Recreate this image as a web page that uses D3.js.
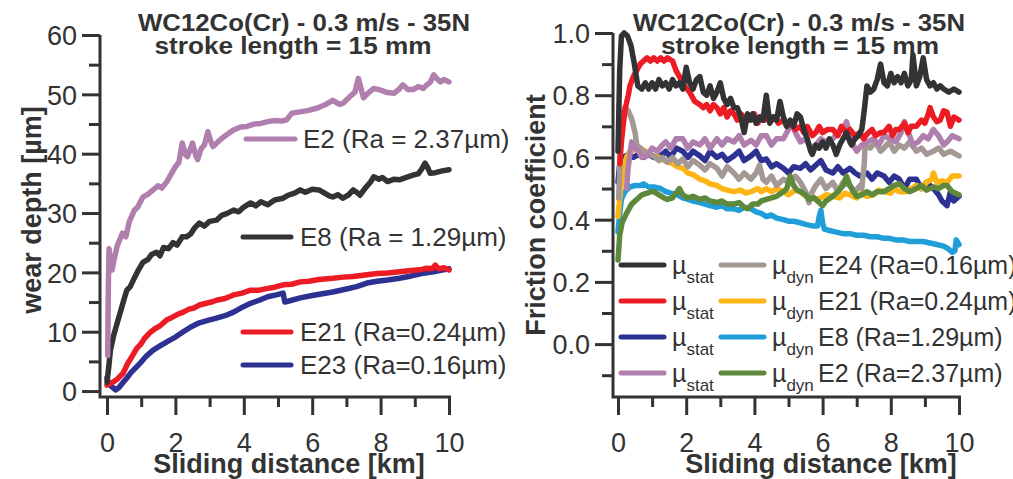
<!DOCTYPE html>
<html>
<head>
<meta charset="utf-8">
<script src="https://cdn.jsdelivr.net/npm/d3@7"></script>
<style>
  body { margin: 0; background: #fff; }
  svg { display: block; }
  text { font-family: "Liberation Sans", Arial, Helvetica, sans-serif; fill: #333; }
</style>
</head>
<body>
<svg id="chart" width="1013" height="479"></svg>
<script>
const TITLE_1 = "WC12Co(Cr) - 0.3 m/s - 35N",
      TITLE_2 = "stroke length = 15 mm",
      X_LABEL = "Sliding distance [km]";

// --- left panel: wear depth [µm] vs sliding distance [km]
const wearE2 = [[0.02,6],[0.04,18],[0.06,24],[0.1,22],[0.15,20.4],[0.2,22],[0.3,24.5],[0.45,26.6],[0.55,26],[0.65,28.5],[0.8,30.5],[0.9,31],[1.05,32.7],[1.2,33.2],[1.35,33.9],[1.5,34.6],[1.6,34.2],[1.75,35.3],[1.9,36.8],[2.0,37.8],[2.1,38.5],[2.2,41.8],[2.3,39.8],[2.35,39.5],[2.45,41.0],[2.5,41.8],[2.6,39.6],[2.65,39],[2.75,40.8],[2.85,41.5],[2.95,43.7],[3.05,41.8],[3.1,41.2],[3.3,42.3],[3.5,43.2],[3.7,44],[3.9,44.5],[4.1,44.6],[4.3,45],[4.5,45.1],[4.7,45.4],[4.9,45.6],[5.1,45.5],[5.25,45.7],[5.4,46.8],[5.6,47],[5.9,47.3],[6.15,47.7],[6.4,48.3],[6.6,49],[6.8,48.3],[6.9,48.5],[7.1,49.6],[7.25,50.4],[7.35,52.7],[7.45,50.5],[7.5,49.4],[7.65,50.3],[7.8,51],[8.0,50.7],[8.2,50.3],[8.4,50.2],[8.55,50.9],[8.65,51.6],[8.8,50.8],[8.95,50.8],[9.1,51.3],[9.25,51.0],[9.35,51.6],[9.45,52.0],[9.55,53.3],[9.65,52.6],[9.75,52.1],[9.85,52.5],[10,52.1]];
const wearE8 = [[0.0,1.5],[0.05,4],[0.1,6.9],[0.2,9.5],[0.3,11.5],[0.4,13.5],[0.5,15.5],[0.58,17],[0.68,17.6],[0.77,18.7],[0.9,20.2],[1.05,21.7],[1.2,22.2],[1.3,23],[1.45,23.4],[1.55,22.8],[1.65,24.2],[1.8,24.0],[1.93,25],[2.05,24.6],[2.2,26.0],[2.33,26],[2.45,26.5],[2.55,27.4],[2.7,28.3],[2.85,27.8],[3.0,28.6],[3.2,28.8],[3.35,29.6],[3.5,29.9],[3.7,30.5],[3.85,30.2],[4.0,31.0],[4.2,31.7],[4.35,31.2],[4.5,31.9],[4.7,31.4],[4.9,32.2],[5.15,32.5],[5.3,33.0],[5.5,33.4],[5.65,33.9],[5.8,33.5],[6.0,34.0],[6.2,33.9],[6.35,33.4],[6.5,32.9],[6.6,32.7],[6.75,33.1],[6.9,32.5],[7.05,33.0],[7.2,33.9],[7.3,33.5],[7.4,33],[7.55,34.2],[7.7,35.2],[7.8,36.1],[7.95,35.7],[8.05,36.0],[8.2,35.3],[8.4,35.7],[8.55,35.6],[8.75,36.0],[8.95,36.4],[9.1,36.6],[9.2,37.4],[9.3,38.4],[9.38,37.6],[9.45,36.7],[9.6,36.8],[9.8,37.1],[10,37.3]];
const wearE21 = [[0.0,1.0],[0.1,1.3],[0.2,1.6],[0.3,2.0],[0.47,3],[0.6,4.6],[0.75,6.0],[0.87,7.2],[1.0,8.0],[1.1,8.9],[1.25,9.8],[1.4,10.5],[1.55,11.0],[1.75,12],[1.9,12.4],[2.05,12.9],[2.23,13.3],[2.4,13.8],[2.55,14.0],[2.7,14.5],[2.9,14.8],[3.05,15.0],[3.2,15.3],[3.45,15.6],[3.7,16.2],[3.95,16.5],[4.2,17],[4.45,17.0],[4.7,17.3],[4.9,17.5],[5.15,17.9],[5.4,18.0],[5.65,18.4],[5.9,18.5],[6.2,18.8],[6.6,19],[6.9,19.2],[7.2,19.3],[7.6,19.6],[7.9,19.8],[8.2,19.9],[8.55,20.1],[8.9,20.3],[9.2,20.5],[9.35,20.7],[9.5,20.6],[9.6,21.2],[9.7,20.6],[9.85,20.8],[10,20.4]];
const wearE23 = [[0.0,2.2],[0.05,1.2],[0.15,0.7],[0.25,0.2],[0.35,0.6],[0.45,1.3],[0.58,2.2],[0.7,3.1],[0.85,4.0],[0.97,4.7],[1.15,5.9],[1.35,6.9],[1.55,7.6],[1.75,8.3],[2.0,9.1],[2.23,10],[2.45,10.8],[2.7,11.5],[2.95,11.9],[3.2,12.3],[3.45,12.7],[3.7,13.3],[3.95,14.1],[4.2,14.8],[4.45,15.3],[4.7,15.9],[4.95,16.2],[5.15,16.5],[5.2,15.0],[5.4,15.3],[5.65,15.7],[6.0,16.1],[6.3,16.4],[6.6,16.7],[7.0,17.2],[7.3,17.6],[7.6,18.2],[7.9,18.5],[8.2,18.7],[8.55,19],[8.9,19.4],[9.2,19.8],[9.55,20.1],[9.8,20.4],[10,20.6]];

// --- right panel: friction coefficient vs sliding distance [km]
const muStatE24 = [[0.0,0.62],[0.05,0.88],[0.1,0.99],[0.18,1.0],[0.28,0.99],[0.38,0.96],[0.48,0.9],[0.58,0.83],[0.7,0.82],[0.8,0.84],[0.9,0.82],[1.0,0.84],[1.1,0.82],[1.2,0.85],[1.3,0.83],[1.4,0.84],[1.5,0.82],[1.6,0.85],[1.7,0.83],[1.8,0.84],[1.9,0.82],[2.0,0.89],[2.1,0.84],[2.2,0.82],[2.3,0.85],[2.4,0.86],[2.5,0.81],[2.6,0.80],[2.7,0.83],[2.8,0.79],[2.9,0.81],[3.0,0.84],[3.1,0.79],[3.2,0.77],[3.3,0.79],[3.4,0.76],[3.5,0.76],[3.6,0.73],[3.7,0.68],[3.8,0.74],[3.9,0.72],[3.95,0.74],[4.05,0.71],[4.15,0.73],[4.25,0.72],[4.35,0.80],[4.45,0.71],[4.55,0.73],[4.65,0.72],[4.75,0.78],[4.85,0.73],[4.95,0.70],[5.05,0.72],[5.15,0.70],[5.25,0.74],[5.35,0.73],[5.45,0.69],[5.55,0.66],[5.65,0.62],[5.7,0.61],[5.8,0.64],[5.9,0.63],[6.0,0.65],[6.1,0.63],[6.2,0.66],[6.3,0.64],[6.4,0.61],[6.5,0.64],[6.6,0.66],[6.7,0.68],[6.8,0.65],[6.85,0.64],[6.95,0.66],[7.05,0.67],[7.15,0.69],[7.22,0.75],[7.3,0.83],[7.4,0.81],[7.5,0.82],[7.6,0.85],[7.7,0.90],[7.8,0.84],[7.9,0.83],[8.0,0.87],[8.1,0.84],[8.2,0.86],[8.3,0.84],[8.4,0.87],[8.5,0.83],[8.6,0.85],[8.65,0.93],[8.75,0.83],[8.85,0.86],[8.95,0.92],[9.05,0.85],[9.15,0.83],[9.25,0.84],[9.35,0.82],[9.45,0.83],[9.55,0.82],[9.7,0.81],[9.85,0.82],[10,0.81]];
const muStatE21 = [[0.05,0.58],[0.1,0.65],[0.2,0.75],[0.3,0.8],[0.35,0.83],[0.45,0.86],[0.55,0.88],[0.65,0.9],[0.75,0.91],[0.85,0.92],[0.95,0.91],[1.05,0.92],[1.15,0.91],[1.25,0.92],[1.35,0.91],[1.45,0.92],[1.6,0.91],[1.7,0.88],[1.85,0.85],[1.95,0.83],[2.1,0.81],[2.25,0.78],[2.4,0.77],[2.5,0.76],[2.6,0.77],[2.7,0.75],[2.8,0.77],[2.9,0.76],[3.0,0.74],[3.1,0.76],[3.2,0.73],[3.3,0.75],[3.4,0.74],[3.5,0.72],[3.6,0.74],[3.7,0.73],[3.8,0.72],[3.9,0.725],[4.0,0.74],[4.1,0.71],[4.2,0.73],[4.3,0.72],[4.4,0.74],[4.5,0.72],[4.6,0.73],[4.7,0.71],[4.85,0.72],[4.95,0.70],[5.05,0.71],[5.2,0.69],[5.35,0.70],[5.45,0.68],[5.55,0.70],[5.7,0.67],[5.8,0.68],[5.9,0.70],[6.0,0.68],[6.15,0.69],[6.3,0.69],[6.45,0.67],[6.55,0.70],[6.7,0.68],[6.8,0.69],[6.95,0.67],[7.1,0.68],[7.2,0.66],[7.3,0.675],[7.45,0.69],[7.55,0.67],[7.7,0.68],[7.8,0.68],[7.95,0.70],[8.05,0.67],[8.15,0.69],[8.25,0.69],[8.4,0.71],[8.5,0.68],[8.6,0.70],[8.75,0.70],[8.9,0.72],[9.0,0.71],[9.1,0.74],[9.15,0.76],[9.25,0.73],[9.35,0.715],[9.45,0.72],[9.55,0.75],[9.65,0.745],[9.75,0.70],[9.85,0.73],[10,0.72]];
const muStatE8 = [[0.0,0.52],[0.05,0.58],[0.15,0.6],[0.3,0.61],[0.45,0.6],[0.6,0.61],[0.75,0.6],[0.9,0.61],[1.05,0.6],[1.25,0.605],[1.4,0.62],[1.55,0.6],[1.7,0.63],[1.9,0.62],[2.05,0.6],[2.2,0.62],[2.4,0.605],[2.55,0.59],[2.7,0.62],[2.9,0.60],[3.05,0.61],[3.2,0.59],[3.4,0.605],[3.55,0.62],[3.7,0.59],[3.9,0.605],[4.05,0.62],[4.2,0.59],[4.35,0.595],[4.5,0.57],[4.65,0.58],[4.85,0.565],[5.0,0.55],[5.15,0.57],[5.35,0.565],[5.5,0.58],[5.65,0.56],[5.8,0.575],[5.95,0.59],[6.1,0.56],[6.3,0.55],[6.45,0.57],[6.6,0.55],[6.8,0.565],[6.95,0.55],[7.1,0.54],[7.3,0.55],[7.45,0.53],[7.6,0.55],[7.8,0.54],[7.95,0.52],[8.1,0.54],[8.25,0.53],[8.4,0.50],[8.55,0.53],[8.75,0.53],[8.9,0.50],[9.05,0.52],[9.25,0.50],[9.4,0.48],[9.5,0.46],[9.65,0.445],[9.75,0.49],[9.85,0.46],[10,0.475]];
const muStatE2 = [[0.25,0.5],[0.3,0.57],[0.4,0.65],[0.5,0.63],[0.6,0.62],[0.7,0.6],[0.85,0.605],[1.0,0.63],[1.15,0.62],[1.3,0.64],[1.4,0.65],[1.55,0.63],[1.7,0.66],[1.9,0.66],[2.05,0.63],[2.2,0.65],[2.4,0.64],[2.55,0.66],[2.7,0.63],[2.9,0.66],[3.05,0.64],[3.2,0.66],[3.4,0.65],[3.55,0.67],[3.7,0.64],[3.9,0.655],[4.05,0.64],[4.2,0.67],[4.35,0.67],[4.5,0.64],[4.65,0.66],[4.85,0.66],[5.0,0.69],[5.1,0.715],[5.2,0.68],[5.35,0.65],[5.5,0.66],[5.65,0.63],[5.8,0.64],[5.95,0.66],[6.1,0.65],[6.3,0.66],[6.45,0.68],[6.6,0.69],[6.7,0.715],[6.8,0.68],[6.9,0.64],[7.0,0.62],[7.15,0.64],[7.3,0.65],[7.5,0.66],[7.65,0.64],[7.8,0.67],[8.0,0.66],[8.15,0.65],[8.3,0.68],[8.4,0.715],[8.55,0.67],[8.65,0.64],[8.8,0.65],[8.95,0.67],[9.1,0.66],[9.25,0.69],[9.4,0.67],[9.55,0.64],[9.65,0.65],[9.8,0.67],[10,0.66]];
const muDynE24 = [[0.02,0.47],[0.08,0.65],[0.14,0.74],[0.2,0.76],[0.3,0.75],[0.4,0.725],[0.5,0.68],[0.55,0.64],[0.65,0.63],[0.75,0.62],[0.9,0.61],[1.05,0.605],[1.2,0.59],[1.3,0.6],[1.45,0.585],[1.6,0.6],[1.75,0.58],[1.9,0.595],[2.05,0.57],[2.2,0.59],[2.4,0.575],[2.55,0.56],[2.7,0.58],[2.9,0.565],[3.05,0.54],[3.2,0.57],[3.4,0.55],[3.55,0.53],[3.7,0.55],[3.9,0.53],[4.05,0.55],[4.15,0.575],[4.25,0.53],[4.35,0.52],[4.5,0.54],[4.65,0.51],[4.85,0.53],[5.0,0.52],[5.2,0.54],[5.35,0.52],[5.5,0.49],[5.6,0.455],[5.7,0.49],[5.8,0.51],[5.95,0.53],[6.1,0.50],[6.3,0.52],[6.45,0.49],[6.6,0.52],[6.8,0.51],[6.95,0.49],[7.1,0.51],[7.15,0.50],[7.22,0.58],[7.25,0.64],[7.4,0.63],[7.55,0.65],[7.7,0.62],[7.8,0.63],[7.95,0.65],[8.1,0.62],[8.25,0.64],[8.4,0.63],[8.55,0.65],[8.75,0.62],[8.9,0.63],[9.05,0.61],[9.25,0.62],[9.4,0.63],[9.55,0.61],[9.75,0.62],[10,0.605]];
const muDynE21 = [[0.0,0.41],[0.08,0.5],[0.15,0.56],[0.25,0.6],[0.35,0.62],[0.5,0.625],[0.65,0.63],[0.8,0.62],[0.95,0.61],[1.05,0.605],[1.2,0.6],[1.35,0.59],[1.45,0.585],[1.6,0.58],[1.75,0.57],[1.9,0.565],[2.05,0.55],[2.2,0.545],[2.4,0.53],[2.55,0.525],[2.7,0.515],[2.9,0.51],[3.05,0.50],[3.2,0.495],[3.4,0.49],[3.6,0.495],[3.75,0.485],[3.9,0.49],[4.1,0.50],[4.2,0.49],[4.35,0.50],[4.5,0.49],[4.65,0.50],[4.85,0.49],[5.0,0.48],[5.2,0.495],[5.35,0.49],[5.5,0.475],[5.65,0.48],[5.8,0.465],[5.95,0.47],[6.1,0.48],[6.3,0.475],[6.5,0.47],[6.65,0.485],[6.8,0.48],[7.0,0.47],[7.15,0.485],[7.3,0.475],[7.5,0.48],[7.65,0.495],[7.8,0.49],[8.0,0.485],[8.1,0.5],[8.25,0.49],[8.45,0.49],[8.6,0.50],[8.75,0.51],[8.9,0.50],[9.05,0.52],[9.2,0.53],[9.25,0.55],[9.35,0.52],[9.5,0.525],[9.65,0.52],[9.8,0.54],[10,0.54]];
const muDynE8 = [[0.0,0.36],[0.05,0.42],[0.1,0.465],[0.2,0.49],[0.35,0.505],[0.5,0.51],[0.65,0.51],[0.75,0.515],[0.9,0.505],[1.05,0.505],[1.25,0.50],[1.4,0.49],[1.55,0.485],[1.75,0.48],[1.9,0.47],[2.05,0.465],[2.2,0.46],[2.4,0.455],[2.55,0.45],[2.7,0.445],[2.9,0.44],[3.05,0.445],[3.2,0.435],[3.4,0.435],[3.55,0.43],[3.7,0.44],[3.9,0.435],[4.05,0.425],[4.2,0.42],[4.35,0.41],[4.5,0.415],[4.65,0.405],[4.85,0.40],[5.0,0.395],[5.15,0.395],[5.35,0.39],[5.5,0.385],[5.7,0.38],[5.85,0.38],[5.9,0.41],[5.95,0.43],[6.0,0.39],[6.05,0.37],[6.2,0.365],[6.4,0.36],[6.6,0.355],[6.8,0.355],[7.0,0.35],[7.2,0.35],[7.4,0.345],[7.6,0.345],[7.8,0.34],[7.95,0.34],[8.15,0.335],[8.35,0.335],[8.55,0.33],[8.75,0.33],[8.95,0.33],[9.15,0.325],[9.35,0.32],[9.55,0.315],[9.7,0.305],[9.8,0.295],[9.88,0.30],[9.92,0.335],[10,0.32]];
const muDynE2 = [[0.0,0.27],[0.05,0.35],[0.12,0.39],[0.25,0.42],[0.4,0.45],[0.55,0.465],[0.7,0.48],[0.85,0.485],[0.95,0.49],[1.05,0.49],[1.2,0.48],[1.35,0.47],[1.45,0.465],[1.6,0.47],[1.7,0.485],[1.8,0.50],[1.9,0.48],[2.05,0.47],[2.2,0.475],[2.4,0.465],[2.55,0.47],[2.7,0.46],[2.9,0.455],[3.05,0.46],[3.2,0.45],[3.4,0.45],[3.55,0.455],[3.7,0.44],[3.8,0.435],[3.95,0.45],[4.1,0.45],[4.2,0.46],[4.35,0.465],[4.5,0.47],[4.65,0.475],[4.85,0.49],[4.95,0.5],[5.05,0.54],[5.15,0.51],[5.25,0.495],[5.35,0.49],[5.5,0.48],[5.6,0.465],[5.75,0.47],[5.9,0.455],[6.0,0.445],[6.1,0.46],[6.3,0.475],[6.45,0.49],[6.6,0.51],[6.7,0.54],[6.8,0.51],[6.9,0.49],[7.0,0.475],[7.15,0.48],[7.3,0.49],[7.45,0.48],[7.6,0.49],[7.8,0.49],[7.95,0.50],[8.1,0.51],[8.25,0.515],[8.4,0.50],[8.55,0.49],[8.75,0.50],[8.9,0.51],[9.05,0.495],[9.25,0.505],[9.4,0.50],[9.55,0.51],[9.65,0.51],[9.8,0.49],[10,0.48]];

const wearLabels = ["E2 (Ra = 2.37µm)", "E8 (Ra = 1.29µm)", "E21 (Ra=0.24µm)", "E23 (Ra=0.16µm)"];
const frictionLabels = ["E24 (Ra=0.16µm)", "E21 (Ra=0.24µm)", "E8 (Ra=1.29µm)", "E2 (Ra=2.37µm)"];
const xTicksMajor = [0, 2, 4, 6, 8, 10],
      xTicksMinor = [1, 3, 5, 7, 9];

const C = {
  black: "#333336", red: "#ed1c24", navy: "#2c3192", lilac: "#b17fad",
  taupe: "#a39893", orange: "#fdb515", blue: "#1f9ed9", green: "#5e893b"
};
const AXIS = "#333", FONT_TICK = 27, FONT_LEG = 26, LINE_W = 5.5;

const svg = d3.select("#chart");
svg.append("rect").attr("width", 1013).attr("height", 479).attr("fill", "#fff");

function panel(opt) {
  let g = svg.append("g");
  let x = d3.scaleLinear().domain([0, 10]).range(opt.xRange),
      y = d3.scaleLinear().domain(opt.yDomain).range([397, opt.top]);

  let line = d3.line().x(d => x(d[0])).y(d => y(d[1]));

  // data lines
  opt.series.forEach(s => {
    g.append("path")
      .datum(s.data)
      .attr("d", line)
      .attr("fill", "none")
      .attr("stroke", s.color)
      .attr("stroke-width", LINE_W)
      .attr("stroke-linejoin", "round")
      .attr("stroke-linecap", "round");
  });

  // frame (left + bottom)
  g.append("path")
    .attr("d", "M" + opt.x0 + "," + opt.top + "V397H" + (opt.xRange[1] + 2))
    .attr("fill", "none").attr("stroke", AXIS).attr("stroke-width", 3);

  // y axis ticks
  let yMajor = g.append("g").attr("transform", "translate(" + opt.x0 + ",0)")
    .call(d3.axisLeft(y).tickValues(opt.yMajor).tickSize(18).tickPadding(5).tickFormat(opt.yFormat));
  let yMinor = g.append("g").attr("transform", "translate(" + opt.x0 + ",0)")
    .call(d3.axisLeft(y).tickValues(opt.yMinor).tickSize(11).tickFormat(""));

  let xMajor = g.append("g").attr("transform", "translate(0,398)")
    .call(d3.axisBottom(x).tickValues(xTicksMajor).tickSize(17).tickFormat(d3.format("d")));
  let xMinor = g.append("g").attr("transform", "translate(0,398)")
    .call(d3.axisBottom(x).tickValues(xTicksMinor).tickSize(9).tickFormat(""));

  [yMajor, yMinor, xMajor, xMinor].forEach(a => {
    a.select(".domain").remove();
    a.selectAll(".tick line").attr("stroke", AXIS).attr("stroke-width", 3);
    a.selectAll(".tick text")
      .attr("font-family", null)
      .style("font-size", FONT_TICK + "px")
      .attr("fill", "#333");
  });
  xMajor.selectAll(".tick text").attr("y", 54).attr("dy", 0);
  yMajor.selectAll(".tick text").attr("dy", "0.36em");

  // titles
  g.append("text")
    .attr("x", opt.t1[0]).attr("y", 31)
    .attr("text-anchor", "middle")
    .attr("textLength", opt.t1[1]).attr("lengthAdjust", "spacingAndGlyphs")
    .style("font-size", "23px").style("font-weight", "bold")
    .text(TITLE_1);
  g.append("text")
    .attr("x", opt.t2[0]).attr("y", 54)
    .attr("text-anchor", "middle")
    .attr("textLength", opt.t2[1]).attr("lengthAdjust", "spacingAndGlyphs")
    .style("font-size", "23px").style("font-weight", "bold")
    .text(TITLE_2);

  // axis labels
  g.append("text")
    .attr("x", opt.xLabelX).attr("y", 473)
    .attr("text-anchor", "middle")
    .style("font-size", "27px").style("font-weight", "bold")
    .text(X_LABEL);
  g.append("text")
    .attr("transform", "translate(" + opt.yLabel[0] + "," + opt.yLabel[1] + ") rotate(-90)")
    .attr("text-anchor", "middle")
    .style("font-size", "27px").style("font-weight", "bold")
    .text(opt.yLabel[2]);

  return g;
}

// left panel
let left = panel({
  xRange: [107, 449], x0: 100, top: 35, yDomain: [-1, 60],
  yMajor: d3.range(0, 61, 10), yMinor: d3.range(5, 60, 10), yFormat: d3.format("d"),
  series: [
    {data: wearE23, color: C.navy},
    {data: wearE21, color: C.red},
    {data: wearE8, color: C.black},
    {data: wearE2, color: C.lilac}
  ],
  t1: [304, 332], t2: [293, 277], xLabelX: 289, yLabel: [41, 210, "wear depth [µm]"]
});

const wearLegend = [
  {label: wearLabels[0], color: C.lilac, y: 139, x1: 246, x2: 295, tx: 303},
  {label: wearLabels[1], color: C.black, y: 237, x1: 243, x2: 291, tx: 300},
  {label: wearLabels[2], color: C.red, y: 332, x1: 243, x2: 291, tx: 300},
  {label: wearLabels[3], color: C.navy, y: 365, x1: 243, x2: 291, tx: 300}
];
wearLegend.forEach(d => {
  left.append("line")
    .attr("x1", d.x1).attr("x2", d.x2).attr("y1", d.y).attr("y2", d.y)
    .attr("stroke", d.color).attr("stroke-width", 5).attr("stroke-linecap", "round");
  left.append("text")
    .attr("x", d.tx).attr("y", d.y).attr("dy", "0.36em")
    .style("font-size", FONT_LEG + "px")
    .text(d.label);
});

// right panel
let right = panel({
  xRange: [618, 959], x0: 613, top: 33, yDomain: [-0.17, 1.0],
  yMajor: [0, 0.2, 0.4, 0.6, 0.8, 1.0], yMinor: [-0.1, 0.1, 0.3, 0.5, 0.7, 0.9], yFormat: d3.format(".1f"),
  series: [
    {data: muStatE8, color: C.navy},
    {data: muDynE8, color: C.blue},
    {data: muDynE21, color: C.orange},
    {data: muDynE24, color: C.taupe},
    {data: muStatE2, color: C.lilac},
    {data: muDynE2, color: C.green},
    {data: muStatE21, color: C.red},
    {data: muStatE24, color: C.black}
  ],
  t1: [799, 332], t2: [800, 278], xLabelX: 821, yLabel: [545, 215, "Friction coefficient"]
});

const frictionLegend = [
  {stat: C.black, dyn: C.taupe, label: frictionLabels[0], y: 265},
  {stat: C.red, dyn: C.orange, label: frictionLabels[1], y: 301},
  {stat: C.navy, dyn: C.blue, label: frictionLabels[2], y: 337},
  {stat: C.lilac, dyn: C.green, label: frictionLabels[3], y: 373}
];
frictionLegend.forEach(d => {
  right.append("line")
    .attr("x1", 621).attr("x2", 664).attr("y1", d.y).attr("y2", d.y)
    .attr("stroke", d.stat).attr("stroke-width", 5).attr("stroke-linecap", "round");
  right.append("line")
    .attr("x1", 721).attr("x2", 764).attr("y1", d.y).attr("y2", d.y)
    .attr("stroke", d.dyn).attr("stroke-width", 5).attr("stroke-linecap", "round");

  let t1 = right.append("text").attr("x", 672).attr("y", d.y).attr("dy", "0.36em")
    .style("font-size", "25px");
  t1.append("tspan").text("µ");
  t1.append("tspan").attr("dy", 9).style("font-size", "17px").text("stat");

  let t2 = right.append("text").attr("x", 772).attr("y", d.y).attr("dy", "0.36em")
    .style("font-size", "25px");
  t2.append("tspan").text("µ");
  t2.append("tspan").attr("dy", 9).style("font-size", "17px").text("dyn");
  right.append("text").attr("x", 818).attr("y", d.y).attr("dy", "0.36em")
    .style("font-size", "25px")
    .text(d.label);
});
</script>
</body>
</html>
